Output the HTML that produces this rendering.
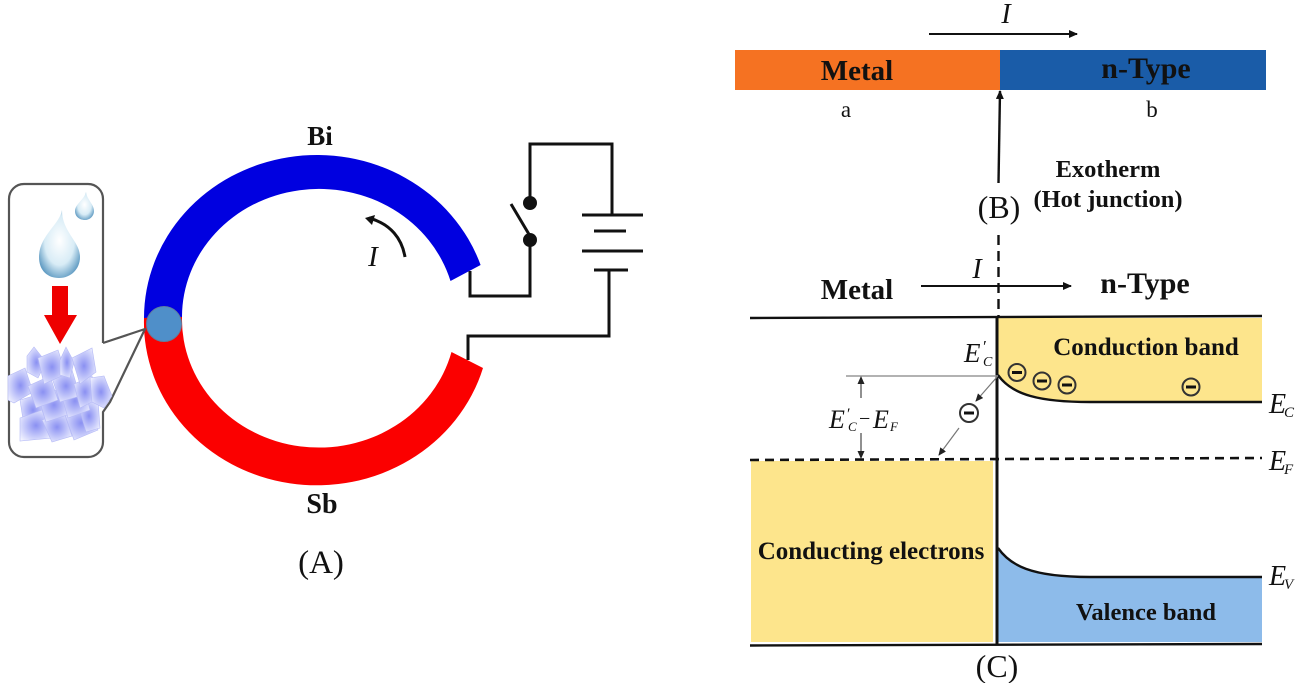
<!DOCTYPE html>
<html><head><meta charset="utf-8"><style>
html,body{margin:0;padding:0;background:#fff;width:1301px;height:683px;overflow:hidden}
svg{display:block}
text{font-family:"Liberation Serif",serif;fill:#111}
.b{font-weight:bold}.i{font-style:italic}
.m{text-anchor:middle}
</style></head><body>
<svg width="1301" height="683" viewBox="0 0 1301 683" xmlns="http://www.w3.org/2000/svg">
<defs>
<radialGradient id="dr" cx="50%" cy="45%" r="60%"><stop offset="0" stop-color="#fff"/><stop offset=".6" stop-color="#d8ecf6"/><stop offset="1" stop-color="#5a97c0"/></radialGradient>
<radialGradient id="ic" cx="50%" cy="50%" r="65%"><stop offset="0" stop-color="#8a90f2"/><stop offset=".55" stop-color="#c5c9fa"/><stop offset="1" stop-color="#f4f5ff"/></radialGradient>
<marker id="ah" markerWidth="9" markerHeight="8" refX="8" refY="4" orient="auto" markerUnits="userSpaceOnUse"><path d="M0 0L9 4L0 8z" fill="#111"/></marker>
<marker id="ag" markerWidth="8" markerHeight="7" refX="7" refY="3.5" orient="auto-start-reverse" markerUnits="userSpaceOnUse"><path d="M0 0L8 3.5L0 7z" fill="#222"/></marker>
</defs>

<!-- ring -->
<path d="M144 318A173 163 0 0 1 480.6 265L450.5 281A137 128 0 0 0 182 317Z" fill="#0000e0"/>
<path d="M144 318A173 163 0 0 0 483 368L451.5 352A137 128 0 0 1 182 317Z" fill="#fb0000"/>

<!-- inset -->
<path d="M103 343V199A15 15 0 0 0 88 184H24A15 15 0 0 0 9 199V442A15 15 0 0 0 24 457H88A15 15 0 0 0 103 442V412L110 402L145 329L103 343" fill="#fff" stroke="#555" stroke-width="2.2" stroke-linejoin="round"/>
<circle cx="164" cy="324" r="17.5" fill="#4f8fc9" stroke="#5f7f9f" stroke-width="1"/>
<path d="M62 210C60 224 39 236 39 257C39 271 48 278 59 278C71 278 80 269 80 257C80 241 62 232 62 210Z" fill="url(#dr)"/>
<path d="M86 192C84 200 75 204 75 211C75 217 80 220 85 220C90 220 94 216 94 211C94 204 87 200 86 192Z" fill="url(#dr)"/>
<path d="M52 286H68V315H77L60 344L44 315H52Z" fill="#ee0000"/>
<g fill="url(#ic)" stroke="#b4b9f6" stroke-width=".6">
<path d="M20 400L40 394L46 420L24 426Z"/>
<path d="M20 418L42 410L52 438L20 441Z"/>
<path d="M42 420L64 412L72 436L52 442Z"/>
<path d="M64 412L84 406L98 430L74 440Z"/>
<path d="M78 404L98 400L100 428L86 432Z"/>
<path d="M38 396L62 388L70 414L46 422Z"/>
<path d="M60 390L84 384L90 410L68 418Z"/>
<path d="M8 376L25 368L33 392L14 403L8 400Z"/>
<path d="M28 386L50 376L58 400L36 408Z"/>
<path d="M52 378L72 370L80 396L60 402Z"/>
<path d="M74 384L92 376L96 400L80 408Z"/>
<path d="M90 378L104 376L112 396L104 408L92 402Z"/>
<path d="M27 356L34 347L46 362L38 378L27 372Z"/>
<path d="M38 358L58 350L66 374L44 384Z"/>
<path d="M60 360L66 347L74 362L70 378L60 375Z"/>
<path d="M72 358L92 348L96 372L80 384Z"/>
</g>

<!-- circuit -->
<g fill="none" stroke="#111" stroke-width="3">
<path d="M470 271V296H530V240"/><path d="M530 200V144H612V214"/><path d="M511 204L530 236"/>
<path d="M582 215H643M594 231H626M582 251H643M594 270H628"/>
<path d="M609 270V336H468V360"/>
<path d="M405 257C402 239 391 224 369 218"/>
</g>
<circle cx="530" cy="203" r="7" fill="#111"/><circle cx="530" cy="240" r="7" fill="#111"/>
<path d="M365 218L375 215L372 225Z" fill="#111"/>
<text x="373" y="266" class="i m" font-size="29">I</text>
<text x="320" y="145" class="b m" font-size="27">Bi</text>
<text x="322" y="513" class="b m" font-size="28">Sb</text>
<text x="321" y="573" class="m" font-size="33">(A)</text>

<!-- top bar -->
<rect x="735" y="50" width="265" height="40" fill="#f57222"/>
<rect x="1000" y="50" width="266" height="40" fill="#1a5ca8"/>
<text x="857" y="80" class="b m" font-size="29">Metal</text>
<text x="1146" y="78" class="b m" font-size="30">n-Type</text>
<text x="846" y="117" class="m" font-size="23">a</text>
<text x="1152" y="117" class="m" font-size="23">b</text>
<text x="1006" y="23" class="i m" font-size="28">I</text>
<line x1="929" y1="34" x2="1077" y2="34" stroke="#111" stroke-width="2" marker-end="url(#ah)"/>
<line x1="998.5" y1="183" x2="1000" y2="91" stroke="#111" stroke-width="2.4" marker-end="url(#ah)"/>
<text x="1108" y="177" class="b m" font-size="24.5">Exotherm</text>
<text x="1108" y="207" class="b m" font-size="24.5">(Hot junction)</text>
<text x="999" y="218" class="m" font-size="32">(B)</text>
<line x1="998.5" y1="235" x2="998.5" y2="316" stroke="#111" stroke-width="2.4" stroke-dasharray="10 6"/>

<!-- band diagram -->
<text x="857" y="299" class="b m" font-size="29">Metal</text>
<text x="977" y="278" class="i m" font-size="28">I</text>
<line x1="921" y1="286" x2="1071" y2="286" stroke="#111" stroke-width="2" marker-end="url(#ah)"/>
<text x="1145" y="293" class="b m" font-size="30">n-Type</text>

<path d="M998 318H1262V402H1090C1040 402 1012 395 998 375Z" fill="#fde58c"/>
<rect x="751" y="461" width="242" height="181" fill="#fde58c"/>
<path d="M998 548C1010 565 1030 577 1090 577H1262V642H998Z" fill="#8dbbea"/>
<path d="M998 375C1012 395 1040 402 1090 402H1262" fill="none" stroke="#111" stroke-width="2.4"/>
<path d="M998 548C1010 565 1030 577 1090 577H1262" fill="none" stroke="#111" stroke-width="2.4"/>
<line x1="750" y1="318" x2="1262" y2="316" stroke="#111" stroke-width="2.4"/>
<line x1="750" y1="645.5" x2="1262" y2="644" stroke="#111" stroke-width="2.4"/>
<line x1="750" y1="460" x2="1262" y2="458" stroke="#111" stroke-width="2.6" stroke-dasharray="9 6"/>
<line x1="997" y1="316" x2="997" y2="645" stroke="#111" stroke-width="3"/>

<line x1="846" y1="376" x2="998" y2="376" stroke="#999" stroke-width="1.4"/>
<line x1="861" y1="398" x2="861" y2="377" stroke="#222" stroke-width="1" marker-end="url(#ag)"/>
<line x1="861" y1="433" x2="861" y2="458" stroke="#222" stroke-width="1" marker-end="url(#ag)"/>
<line x1="997" y1="377" x2="976" y2="401" stroke="#777" stroke-width="1.2" marker-end="url(#ag)"/>
<line x1="959" y1="428" x2="939" y2="455" stroke="#777" stroke-width="1.2" marker-end="url(#ag)"/>

<g fill="none" stroke="#333" stroke-width="2">
<circle cx="1017" cy="372.5" r="8.5"/><circle cx="1042" cy="381" r="8.5"/><circle cx="1067" cy="385" r="8.5"/><circle cx="1191" cy="387" r="8.5"/><circle cx="969" cy="413" r="9"/>
</g>
<g stroke="#111" stroke-width="3">
<line x1="1012" y1="372.5" x2="1022" y2="372.5"/><line x1="1037" y1="381" x2="1047" y2="381"/><line x1="1062" y1="385" x2="1072" y2="385"/><line x1="1186" y1="387" x2="1196" y2="387"/><line x1="964" y1="413" x2="974" y2="413"/>
</g>

<text x="1146" y="355" class="b m" font-size="25">Conduction band</text>
<text x="871" y="559" class="b m" font-size="25">Conducting electrons</text>
<text x="1146" y="620" class="b m" font-size="24.5">Valence band</text>
<text x="997" y="677" class="m" font-size="32">(C)</text>

<text x="964" y="362" class="i" font-size="27">E</text><text x="982" y="352" font-size="17" class="i">′</text><text x="983" y="366" font-size="14" class="i">C</text>
<text x="829" y="428" class="i" font-size="26">E</text><text x="846" y="419" font-size="16" class="i">′</text><text x="848" y="431" font-size="13" class="i">C</text>
<text x="859" y="425" font-size="20">−</text>
<text x="873" y="428" class="i" font-size="26">E</text><text x="890" y="431" font-size="13" class="i">F</text>
<text x="1269" y="413" class="i" font-size="28">E</text><text x="1284" y="417" font-size="15" class="i">C</text>
<text x="1269" y="470" class="i" font-size="28">E</text><text x="1284" y="474" font-size="15" class="i">F</text>
<text x="1269" y="585" class="i" font-size="28">E</text><text x="1284" y="589" font-size="15" class="i">V</text>
</svg>
</body></html>
